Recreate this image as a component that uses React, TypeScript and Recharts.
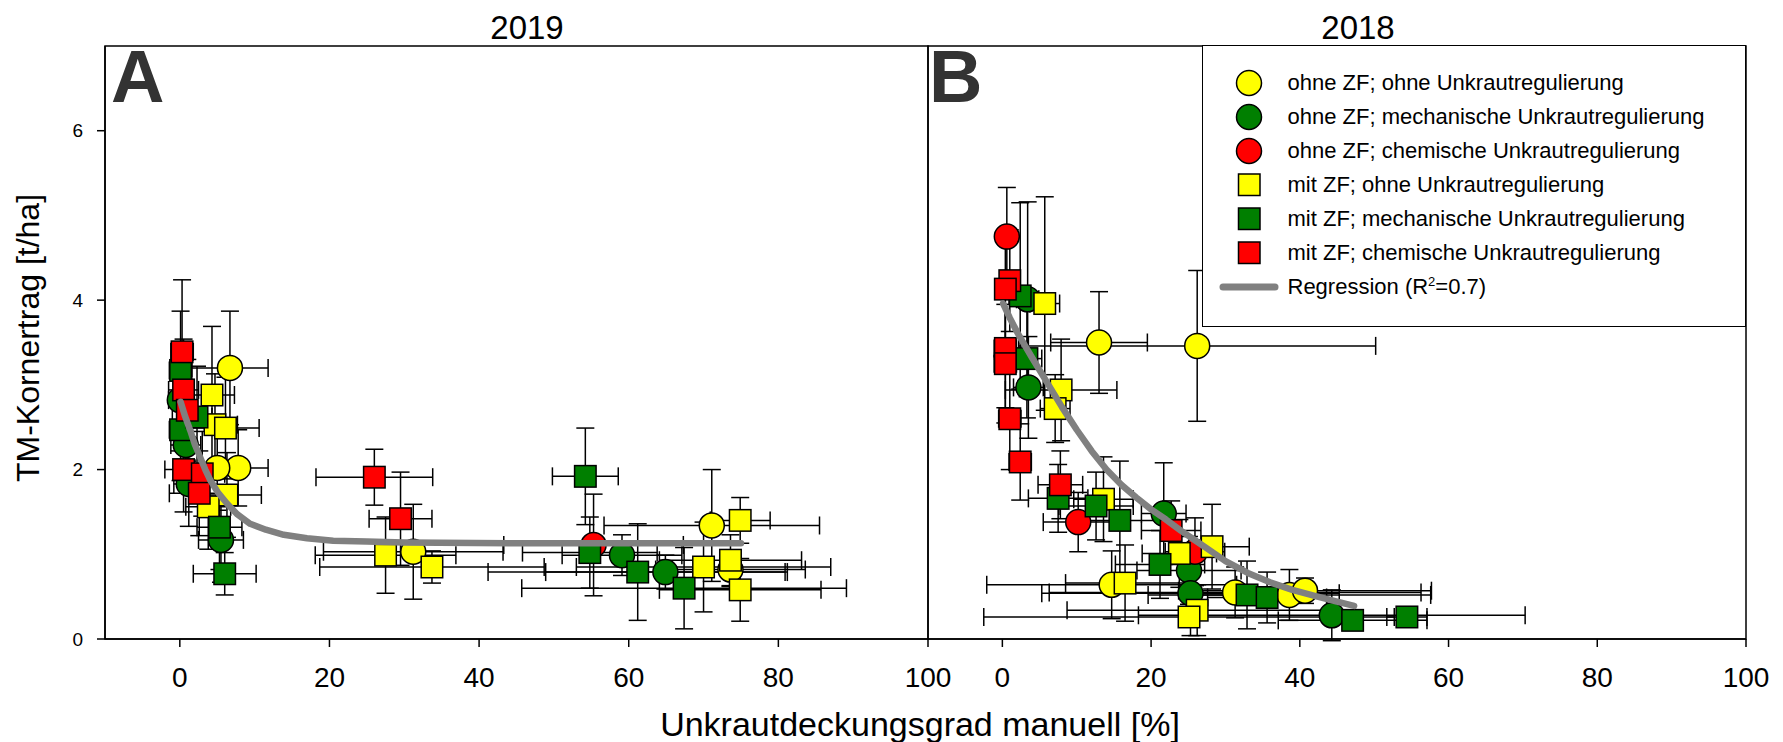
import { ComposedChart, Scatter, XAxis, YAxis, ErrorBar, ReferenceArea } from 'recharts'

const FONT = '"Liberation Sans", Arial, Helvetica, sans-serif'

const xTicks = [0, 20, 40, 60, 80, 100]
const yTicks = [0, 2, 4, 6]

// 2019 (panel A): x = Unkrautdeckung %, y = t/ha, ex/ey = Fehlerbalken
const aYellowCircle = [
  { x: 6.7, y: 3.2, ex: 5.1, ey: 0.67 },
  { x: 7.8, y: 2.02, ex: 4, ey: 0.45 },
  { x: 5.0, y: 2.02, ex: 3, ey: 0.5 },
  { x: 31.2, y: 1.03, ex: 12, ey: 0.56 },
  { x: 71.1, y: 1.34, ex: 14.4, ey: 0.66 },
  { x: 73.6, y: 0.82, ex: 10, ey: 0.2 },
]
const aGreenCircle = [
  { x: 0, y: 2.82, ex: 1.5, ey: 0.6 },
  { x: 0.8, y: 2.29, ex: 2, ey: 0.5 },
  { x: 1.2, y: 1.83, ex: 2, ey: 0.5 },
  { x: 5.5, y: 1.17, ex: 3, ey: 0.5 },
  { x: 59.1, y: 0.99, ex: 8, ey: 0.24 },
  { x: 64.9, y: 0.79, ex: 16, ey: 0.2 },
]
const aRedCircle = [{ x: 55.3, y: 1.11, ex: 12, ey: 0.6 }]
const aYellowSquare = [
  { x: 4.3, y: 2.88, ex: 3, ey: 0.81 },
  { x: 4.7, y: 2.53, ex: 3, ey: 0.6 },
  { x: 6.1, y: 2.49, ex: 4.5, ey: 0.6 },
  { x: 6.3, y: 1.7, ex: 4.6, ey: 0.5 },
  { x: 3.8, y: 1.56, ex: 3, ey: 0.5 },
  { x: 27.5, y: 0.99, ex: 9.4, ey: 0.45 },
  { x: 33.7, y: 0.85, ex: 15, ey: 0.19 },
  { x: 70.0, y: 0.85, ex: 17, ey: 0.53 },
  { x: 73.6, y: 0.93, ex: 9.5, ey: 0.3 },
  { x: 74.9, y: 1.4, ex: 4, ey: 0.27 },
  { x: 74.9, y: 0.58, ex: 10.8, ey: 0.37 },
]
const aGreenSquare = [
  { x: 0.1, y: 3.17, ex: 1.5, ey: 0.7 },
  { x: 0.1, y: 2.47, ex: 1.5, ey: 0.6 },
  { x: 2.3, y: 2.62, ex: 2, ey: 0.6 },
  { x: 5.3, y: 1.32, ex: 3, ey: 0.5 },
  { x: 6.0, y: 0.77, ex: 4.2, ey: 0.25 },
  { x: 54.2, y: 1.92, ex: 4.4, ey: 0.57 },
  { x: 54.8, y: 1.02, ex: 9, ey: 0.42 },
  { x: 61.2, y: 0.79, ex: 20, ey: 0.57 },
  { x: 67.4, y: 0.6, ex: 21.7, ey: 0.48 },
]
const aRedSquare = [
  { x: 0.3, y: 3.39, ex: 1.5, ey: 0.85 },
  { x: 0.5, y: 2.94, ex: 2, ey: 0.6 },
  { x: 1.0, y: 2.7, ex: 2, ey: 0.6 },
  { x: 0.5, y: 2.0, ex: 2.5, ey: 0.5 },
  { x: 3.0, y: 1.95, ex: 3, ey: 0.5 },
  { x: 2.6, y: 1.72, ex: 4, ey: 0.5 },
  { x: 26.0, y: 1.91, ex: 7.8, ey: 0.33 },
  { x: 29.5, y: 1.42, ex: 4.2, ey: 0.55 },
]
const aCurve = [
  { x: 0.1, y: 2.8 }, { x: 0.7, y: 2.63 }, { x: 1.4, y: 2.46 }, { x: 2.0, y: 2.3 },
  { x: 2.7, y: 2.15 }, { x: 3.4, y: 2.0 }, { x: 4.1, y: 1.87 }, { x: 5.1, y: 1.73 },
  { x: 6.3, y: 1.6 }, { x: 7.7, y: 1.47 }, { x: 9.4, y: 1.36 }, { x: 11.5, y: 1.29 },
  { x: 13.9, y: 1.23 }, { x: 17, y: 1.19 }, { x: 20.5, y: 1.16 }, { x: 25, y: 1.15 },
  { x: 30, y: 1.14 }, { x: 45, y: 1.13 }, { x: 60, y: 1.13 }, { x: 75, y: 1.13 },
]

// 2018 (panel B)
const bYellowCircle = [
  { x: 13.0, y: 3.5, ex: 6.5, ey: 0.6 },
  { x: 26.2, y: 3.46, ex: 24, ey: 0.89 },
  { x: 14.7, y: 0.64, ex: 16.8, ey: 0.4 },
  { x: 31.3, y: 0.55, ex: 25, ey: 0.3 },
  { x: 38.6, y: 0.52, ex: 19, ey: 0.3 },
  { x: 40.7, y: 0.57, ex: 17, ey: 0.15 },
]
const bGreenCircle = [
  { x: 3.4, y: 4.01, ex: 1.5, ey: 1.15 },
  { x: 3.5, y: 2.97, ex: 2, ey: 0.6 },
  { x: 21.7, y: 1.48, ex: 3, ey: 0.6 },
  { x: 25.1, y: 0.81, ex: 7, ey: 0.4 },
  { x: 25.3, y: 0.54, ex: 20, ey: 0.5 },
  { x: 44.3, y: 0.28, ex: 26, ey: 0.3 },
]
const bRedCircle = [
  { x: 0.6, y: 4.75, ex: 1, ey: 0.58 },
  { x: 10.2, y: 1.38, ex: 4.7, ey: 0.35 },
  { x: 25.9, y: 1.03, ex: 4, ey: 0.4 },
]
const bYellowSquare = [
  { x: 5.7, y: 3.96, ex: 2, ey: 1.26 },
  { x: 7.9, y: 2.94, ex: 7.5, ey: 0.6 },
  { x: 7.1, y: 2.72, ex: 2, ey: 0.4 },
  { x: 13.6, y: 1.65, ex: 4, ey: 0.5 },
  { x: 16.5, y: 0.66, ex: 8, ey: 0.45 },
  { x: 23.8, y: 1.01, ex: 5, ey: 0.4 },
  { x: 28.2, y: 1.09, ex: 5, ey: 0.5 },
  { x: 26.2, y: 0.34, ex: 17.5, ey: 0.3 },
  { x: 25.1, y: 0.26, ex: 27.6, ey: 0.1 },
]
const bGreenSquare = [
  { x: 2.4, y: 4.05, ex: 1.5, ey: 1.1 },
  { x: 3.3, y: 3.31, ex: 2, ey: 0.7 },
  { x: 7.5, y: 1.66, ex: 4, ey: 0.4 },
  { x: 12.6, y: 1.57, ex: 5, ey: 0.4 },
  { x: 15.8, y: 1.4, ex: 6, ey: 0.7 },
  { x: 21.2, y: 0.88, ex: 6, ey: 0.4 },
  { x: 32.9, y: 0.52, ex: 8, ey: 0.4 },
  { x: 35.6, y: 0.49, ex: 8, ey: 0.3 },
  { x: 47.1, y: 0.22, ex: 10, ey: 0.1 },
  { x: 54.4, y: 0.26, ex: 2.7, ey: 0.1 },
]
const bRedSquare = [
  { x: 1.0, y: 4.23, ex: 1, ey: 0.6 },
  { x: 0.4, y: 4.13, ex: 1, ey: 0.7 },
  { x: 0.4, y: 3.43, ex: 1.5, ey: 0.7 },
  { x: 0.4, y: 3.25, ex: 1.5, ey: 0.7 },
  { x: 1.0, y: 2.6, ex: 1.5, ey: 0.6 },
  { x: 2.4, y: 2.09, ex: 1.5, ey: 0.45 },
  { x: 7.8, y: 1.82, ex: 3, ey: 0.4 },
  { x: 22.7, y: 1.28, ex: 4, ey: 0.35 },
]
const bCurve = [
  { x: 0.1, y: 3.96 }, { x: 1, y: 3.79 }, { x: 2, y: 3.62 }, { x: 3, y: 3.47 },
  { x: 4, y: 3.32 }, { x: 6, y: 3.03 }, { x: 8, y: 2.74 }, { x: 10, y: 2.47 },
  { x: 12, y: 2.22 }, { x: 14, y: 2.0 }, { x: 16, y: 1.82 }, { x: 18, y: 1.67 },
  { x: 20, y: 1.53 }, { x: 22, y: 1.41 }, { x: 24, y: 1.28 }, { x: 26, y: 1.16 },
  { x: 28, y: 1.04 }, { x: 30, y: 0.92 }, { x: 33, y: 0.78 }, { x: 36, y: 0.67 },
  { x: 39, y: 0.58 }, { x: 42, y: 0.51 }, { x: 45, y: 0.44 }, { x: 47.3, y: 0.39 },
]

const series = [
  { name: 'ohne ZF; ohne Unkrautregulierung', fill: '#ffff00', kind: 'circle', a: aYellowCircle, b: bYellowCircle },
  { name: 'ohne ZF; mechanische Unkrautregulierung', fill: '#007f00', kind: 'circle', a: aGreenCircle, b: bGreenCircle },
  { name: 'ohne ZF; chemische Unkrautregulierung', fill: '#ff0000', kind: 'circle', a: aRedCircle, b: bRedCircle },
  { name: 'mit ZF; ohne Unkrautregulierung', fill: '#ffff00', kind: 'square', a: aYellowSquare, b: bYellowSquare },
  { name: 'mit ZF; mechanische Unkrautregulierung', fill: '#007f00', kind: 'square', a: aGreenSquare, b: bGreenSquare },
  { name: 'mit ZF; chemische Unkrautregulierung', fill: '#ff0000', kind: 'square', a: aRedSquare, b: bRedSquare },
]

function Marker({ cx, cy, fill, kind }: any) {
  if (cx == null || cy == null) return null
  if (kind === 'circle') {
    return <circle cx={cx} cy={cy} r={12.5} fill={fill} stroke="#000" strokeWidth={1.5} />
  }
  return <rect x={cx - 10.75} y={cy - 10.75} width={21.5} height={21.5} fill={fill} stroke="#000" strokeWidth={1.5} />
}

function Panel({ which, left, width, showY }: { which: 'a' | 'b'; left: number; width: number; showY: boolean }) {
  const curve = which === 'a' ? aCurve : bCurve
  return (
    <div style={{ position: 'absolute', left, top: 0 }}>
      <ComposedChart width={width} height={742} margin={{ top: 46, right: 42, left: showY ? 0 : 2, bottom: 0 }}>
        <XAxis
          type="number"
          dataKey="x"
          domain={[-10, 100]}
          ticks={xTicks}
          allowDataOverflow
          height={103}
          tickSize={8}
          tickMargin={20}
          axisLine={{ stroke: '#000', strokeWidth: 1.5 }}
          tickLine={{ stroke: '#000', strokeWidth: 1.5 }}
          tick={{ fontSize: 28, fill: '#000', fontFamily: FONT }}
        />
        <YAxis
          type="number"
          dataKey="y"
          domain={[0, 7]}
          ticks={yTicks}
          allowDataOverflow
          hide={!showY}
          width={105}
          tickSize={8}
          tickMargin={14}
          axisLine={{ stroke: '#000', strokeWidth: 1.5 }}
          tickLine={{ stroke: '#000', strokeWidth: 1.5 }}
          tick={{ fontSize: 19, fill: '#000', fontFamily: FONT }}
        />
        <ReferenceArea x1={-10} x2={100} y1={0} y2={7} fill="none" stroke="#000" strokeWidth={1.5} />
        {series.map((s) => (
          <Scatter
            key={s.name}
            name={s.name}
            data={s[which]}
            dataKey="y"
            fill={s.fill}
            isAnimationActive={false}
            shape={(p: any) => <Marker cx={p.cx} cy={p.cy} fill={s.fill} kind={s.kind} />}
          >
            <ErrorBar dataKey="ex" direction="x" width={9} stroke="#000" strokeWidth={1.5} isAnimationActive={false} />
            <ErrorBar dataKey="ey" direction="y" width={9} stroke="#000" strokeWidth={1.5} isAnimationActive={false} />
          </Scatter>
        ))}
        <Scatter
          name="Regression"
          data={curve}
          dataKey="y"
          line={{ stroke: '#808080', strokeWidth: 6.5, strokeLinecap: 'round', strokeLinejoin: 'round' }}
          lineType="joint"
          shape={() => <g />}
          isAnimationActive={false}
        />
      </ComposedChart>
    </div>
  )
}

function LegendBox() {
  return (
    <div
      style={{
        position: 'absolute',
        left: 1202,
        top: 45,
        width: 544,
        height: 282,
        border: '1.5px solid #000',
        boxSizing: 'border-box',
        background: '#fff',
        paddingTop: 20,
      }}
    >
      {series.map((s) => (
        <div key={s.name} style={{ height: 34, display: 'flex', alignItems: 'center' }}>
          <svg width={60} height={34} style={{ marginLeft: 16, flex: 'none' }}>
            {s.kind === 'circle' ? (
              <circle cx={30} cy={17} r={12.5} fill={s.fill} stroke="#000" strokeWidth={1.5} />
            ) : (
              <rect x={19.5} y={6} width={21.5} height={21.5} fill={s.fill} stroke="#000" strokeWidth={1.5} />
            )}
          </svg>
          <span style={{ marginLeft: 8.5, fontSize: 22, lineHeight: 1, whiteSpace: 'nowrap' }}>{s.name}</span>
        </div>
      ))}
      <div style={{ height: 34, display: 'flex', alignItems: 'center' }}>
        <svg width={60} height={34} style={{ marginLeft: 16, flex: 'none' }}>
          <line x1={4} y1={17} x2={56} y2={17} stroke="#808080" strokeWidth={7} strokeLinecap="round" />
        </svg>
        <span style={{ marginLeft: 8.5, fontSize: 22, lineHeight: 1, whiteSpace: 'nowrap' }}>
          Regression (R<sup style={{ fontSize: 13, lineHeight: 0 }}>2</sup>=0.7)
        </span>
      </div>
    </div>
  )
}

export default function App() {
  const text = { position: 'absolute' as const, lineHeight: 1, whiteSpace: 'nowrap' as const }
  return (
    <div
      style={{
        position: 'absolute',
        left: 0,
        top: 0,
        width: 1783,
        height: 742,
        background: '#fff',
        fontFamily: FONT,
        color: '#000',
        overflow: 'hidden',
      }}
    >
      <Panel which="a" left={0} width={970} showY />
      <Panel which="b" left={926} width={862} showY={false} />
      <LegendBox />

      <div style={{ ...text, left: 427, width: 200, top: 11, fontSize: 33, textAlign: 'center' }}>2019</div>
      <div style={{ ...text, left: 1258, width: 200, top: 11, fontSize: 33, textAlign: 'center' }}>2018</div>
      <div style={{ ...text, left: 111, top: 40, fontSize: 74, fontWeight: 'bold', color: '#333' }}>A</div>
      <div style={{ ...text, left: 929, top: 40, fontSize: 74, fontWeight: 'bold', color: '#333' }}>B</div>
      <div style={{ ...text, left: 520, width: 800, top: 707, fontSize: 34, textAlign: 'center' }}>
        Unkrautdeckungsgrad manuell [%]
      </div>
      <div
        style={{
          ...text,
          left: 27.5 - 250,
          top: 338 - 16,
          width: 500,
          height: 32,
          fontSize: 32,
          textAlign: 'center',
          transform: 'rotate(-90deg)',
        }}
      >
        TM-Kornertrag [t/ha]
      </div>
    </div>
  )
}
